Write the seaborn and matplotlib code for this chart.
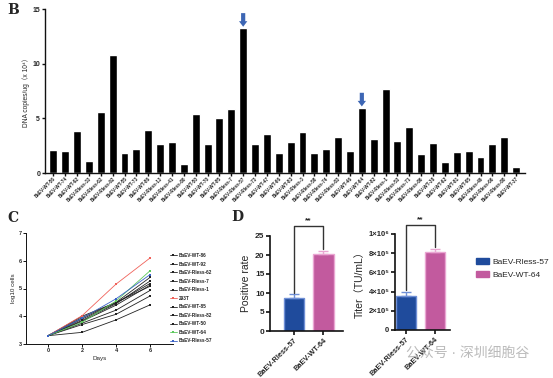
import numpy as np
import pandas as pd
import seaborn as sns
import matplotlib.pyplot as plt
from matplotlib.patches import Patch

# Panel B: DNA copies per clone
clones = ['BaEV-WT-56', 'BaEV-WT-74', 'BaEV-WT-92', 'BaEV-Rless-33', 'BaEV-Rless-62',
          'BaEV-Rless-92', 'BaEV-WT-55', 'BaEV-WT-73', 'BaEV-WT-86', 'BaEV-Rless-13',
          'BaEV-Rless-41', 'BaEV-Rless-80', 'BaEV-WT-50', 'BaEV-WT-70', 'BaEV-WT-85',
          'BaEV-Rless-7', 'BaEV-Rless-57', 'BaEV-Rless-73', 'BaEV-WT-47', 'BaEV-WT-66',
          'BaEV-WT-83', 'BaEV-Rless-3', 'BaEV-Rless-58', 'BaEV-Rless-74', 'BaEV-Rless-83',
          'BaEV-WT-46', 'BaEV-WT-64', 'BaEV-WT-82', 'BaEV-Rless-1', 'BaEV-Rless-53',
          'BaEV-Rless-71', 'BaEV-Rless-86', 'BaEV-WT-38', 'BaEV-WT-62', 'BaEV-WT-81',
          'BaEV-WT-95', 'BaEV-Rless-49', 'BaEV-Rless-66', 'BaEV-Rless-88', 'BaEV-WT-37']
copies = [2.13, 2.04, 3.87, 1.1, 5.58, 10.8, 1.8, 2.16, 3.96, 2.68,
          2.8, 0.79, 5.4, 2.62, 5.0, 5.88, 13.25, 2.65, 3.54, 1.8,
          2.84, 3.75, 1.86, 2.23, 3.29, 2.0, 5.95, 3.11, 7.68, 2.93,
          4.18, 1.74, 2.74, 0.98, 1.89, 2.0, 1.46, 2.65, 3.32, 0.52]
picked = ['BaEV-Rless-57', 'BaEV-WT-64']

# Panel C: growth curves
days = [0, 2, 4, 6]
growth = {
    'BaEV-WT-86': [3.3, 3.95, 4.5, 5.4],
    'BaEV-WT-92': [3.3, 3.85, 4.45, 5.27],
    'BaEV-Rless-62': [3.3, 3.9, 4.48, 5.18],
    'BaEV-Rless-7': [3.3, 3.82, 4.4, 5.12],
    'BaEV-Rless-1': [3.3, 4.0, 4.5, 5.08],
    '293T': [3.3, 4.02, 5.16, 6.1],
    'BaEV-WT-85': [3.3, 3.75, 4.22, 4.93],
    'BaEV-Rless-82': [3.3, 3.7, 4.07, 4.73],
    'BaEV-WT-50': [3.3, 3.42, 3.87, 4.41],
    'BaEV-WT-64': [3.3, 3.78, 4.55, 5.64],
    'BaEV-Rless-57': [3.3, 3.93, 4.63, 5.5],
}

# Panel D: positive rate and titer
groups = ['BaEV-Rless-57', 'BaEV-WT-64']
pos_rate = [8.6, 20.2]
pos_err = [1.1, 0.8]
titer = [3.5e5, 8.1e5]
titer_err = [0.45e5, 0.3e5]
titer_ticks = [0, 2e5, 4e5, 6e5, 8e5, 1e6]
titer_labels = ['0', '2×10⁵', '4×10⁵', '6×10⁵', '8×10⁵', '1×10⁶']

blue = '#1f4b9c'
pink = '#c25a9e'
line_cols = {k: '#222222' for k in growth}
line_cols['293T'] = '#f0625a'
line_cols['BaEV-WT-64'] = '#5cc85c'
line_cols['BaEV-Rless-57'] = '#3a62c6'

sns.set_style('ticks')
plt.rcParams['font.family'] = ['Liberation Sans', 'Noto Sans CJK SC', 'DejaVu Sans']
plt.rcParams['font.weight'] = 'bold'

W, H = 553, 378
fig = plt.figure(figsize=(W / 100, H / 100), dpi=100)


def box(l, t, r, b):
    return [l / W, 1 - b / H, (r - l) / W, (b - t) / H]


def style_axis(ax, lw):
    sns.despine(ax=ax)
    for s in ['left', 'bottom']:
        ax.spines[s].set_linewidth(lw)
        ax.spines[s].set_color('#111111')
    ax.tick_params(width=lw, color='#111111')


# ---- B ----
axB = fig.add_axes(box(45, 9.3, 525, 173))
sns.barplot(x=clones, y=copies, color='black', width=0.67, saturation=1, ax=axB)
axB.set_xlim(-0.7, 39.75)
axB.set_ylim(0, 15)
axB.set_yticks([0, 5, 10, 15])
style_axis(axB, 1.0)
axB.tick_params(axis='y', labelsize=5, length=2.5, pad=1)
axB.tick_params(axis='x', labelsize=3.3, length=2, pad=0.5)
plt.setp(axB.get_xticklabels(), rotation=45, ha='right', rotation_mode='anchor')
axB.set_ylabel('DNA copies/ug（x 10⁴）', fontsize=4.8, labelpad=2)
for name in picked:
    i = clones.index(name)
    v = copies[i]
    axB.annotate('', xy=(i, v + 0.15), xytext=(i, v + 1.4),
                 arrowprops=dict(arrowstyle='simple,head_width=1.2,head_length=0.8,tail_width=0.6',
                                 mutation_scale=5, color='#3d66b4', lw=0,
                                 shrinkA=0, shrinkB=0))
fig.text(7 / W, 1 - 10 / H, 'B', fontsize=10, fontweight='bold', family='DejaVu Serif',
         va='center')

# ---- C ----
axC = fig.add_axes(box(26, 233, 173, 344))
df = pd.DataFrame([(k, d, v) for k, vals in growth.items() for d, v in zip(days, vals)],
                  columns=['sample', 'day', 'cells'])
sns.lineplot(data=df, x='day', y='cells', hue='sample', palette=line_cols, marker='s',
             markersize=2, markeredgewidth=0, linewidth=0.6, ax=axC)
axC.set_xlim(-1.3, 7.35)
axC.set_ylim(3, 7)
axC.set_xticks(days)
axC.set_yticks([3, 4, 5, 6, 7])
style_axis(axC, 0.7)
axC.tick_params(labelsize=4, length=2, pad=1)
axC.set_xlabel('Days', fontsize=4.5, labelpad=2)
axC.set_ylabel('log10 cells', fontsize=4.5, labelpad=2)
h, lab = axC.get_legend_handles_labels()
axC.get_legend().remove()
fig.legend(h, lab, loc='upper left', bbox_to_anchor=(170 / W, 1 - 253 / H), frameon=False,
           fontsize=3.4, handlelength=1.4, labelspacing=0.75, handletextpad=0.5,
           borderaxespad=0, borderpad=0)
fig.text(7 / W, 1 - 218 / H, 'C', fontsize=10, fontweight='bold', family='DejaVu Serif',
         va='center')


# ---- D ----
def bracket(ax, y_top, y_left, y_right, txt_off):
    ax.plot([0, 0, 1, 1], [y_left, y_top, y_top, y_right], color='#333333', lw=1.0,
            clip_on=False)
    ax.text(0.5, y_top + txt_off, '**', ha='center', va='bottom', fontsize=6,
            fontweight='bold')


def bars_with_err(ax, vals, errs):
    sns.barplot(x=groups, y=vals, hue=groups, palette=[blue, pink], width=0.68,
                saturation=1, legend=False, ax=ax)
    edges = ['#6f8fd6', '#eaa6d2']
    for p, ec in zip(ax.patches, edges):
        p.set_edgecolor(ec)
        p.set_linewidth(1.0)
    for i, (v, e) in enumerate(zip(vals, errs)):
        ax.errorbar(i, v, yerr=[[0], [e]], color=edges[i], capsize=3.5, lw=1.0,
                    capthick=1.0)


axD1 = fig.add_axes(box(270, 236, 343, 331))
bars_with_err(axD1, pos_rate, pos_err)
axD1.set_xlim(-0.81, 1.66)
axD1.set_ylim(0, 25)
axD1.set_yticks([0, 5, 10, 15, 20, 25])
style_axis(axD1, 1.2)
axD1.tick_params(axis='y', labelsize=6, length=3, pad=1)
axD1.tick_params(axis='x', labelsize=5.3, length=3, pad=1)
axD1.set_ylabel('Positive rate', fontsize=7.5, labelpad=3)
plt.setp(axD1.get_xticklabels(), rotation=45, ha='right', rotation_mode='anchor')
bracket(axD1, 27.6, pos_rate[0] + pos_err[0] + 0.3, pos_rate[1] + pos_err[1] + 0.6, 0.4)
fig.text(231 / W, 1 - 217 / H, 'D', fontsize=10, fontweight='bold', family='DejaVu Serif',
         va='center')

axD2 = fig.add_axes(box(395, 234, 450, 330))
bars_with_err(axD2, titer, titer_err)
axD2.set_xlim(-0.38, 1.52)
axD2.set_ylim(0, 1e6)
axD2.set_yticks(titer_ticks)
axD2.set_yticklabels(titer_labels)
style_axis(axD2, 1.2)
axD2.tick_params(axis='y', labelsize=5.5, length=3, pad=1)
axD2.tick_params(axis='x', labelsize=5.3, length=3, pad=1)
axD2.set_ylabel('Titer（TU/mL）', fontsize=7.5, labelpad=3)
plt.setp(axD2.get_xticklabels(), rotation=45, ha='right', rotation_mode='anchor')
bracket(axD2, 1.094e6, titer[0] + titer_err[0] + 0.2e5, titer[1] + titer_err[1] + 0.2e5,
        0.015e6)

fig.legend([Patch(color=blue), Patch(color=pink)], groups, loc='upper left',
           bbox_to_anchor=(476 / W, 1 - 258 / H), frameon=False,
           prop={'size': 6, 'weight': 'normal'}, handlelength=1.6, handleheight=0.8,
           labelspacing=0.6, handletextpad=0.4, borderaxespad=0, borderpad=0)

fig.text(468 / W, 1 - 354 / H, '公众号 · 深圳细胞谷', fontsize=10, color='#b4b4b4',
         ha='center', va='center', fontweight='normal', alpha=0.9)

fig.savefig('out.png', dpi=100)
